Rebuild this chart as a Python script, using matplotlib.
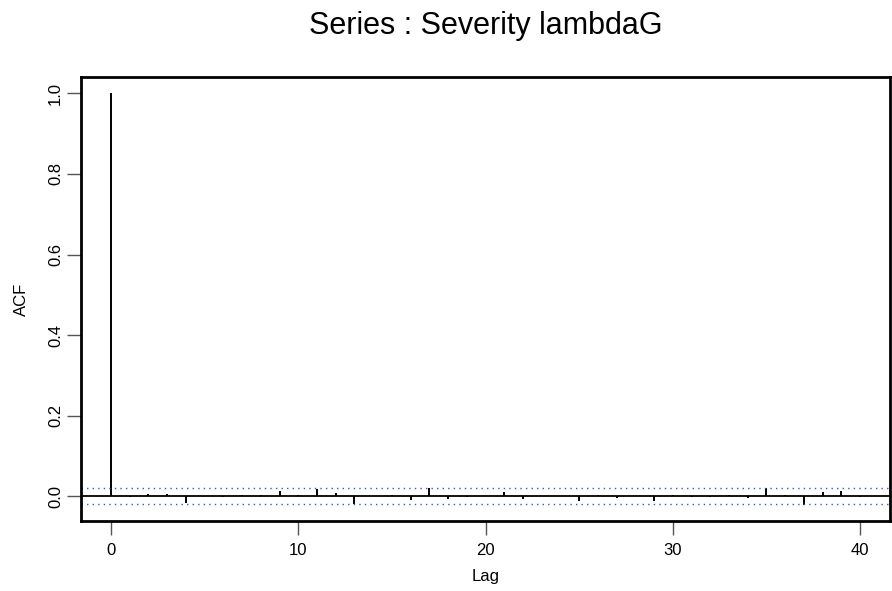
import matplotlib
matplotlib.use("Agg")
import matplotlib.pyplot as plt
import numpy as np

plt.rcParams['font.family'] = ['Liberation Sans', 'DejaVu Sans']

# ACF values, lags 0..40
lags = list(range(41))
acf = [1.0, -0.003, 0.006, 0.006, -0.018, 0.001, -0.003, 0.004, 0.003, 0.012,
       0.004, 0.018, 0.008, -0.020, 0.0, 0.002, -0.009, 0.020, -0.006, -0.002,
       0.0, 0.011, -0.007, 0.0, 0.0, -0.012, 0.003, -0.004, 0.001, -0.013,
       0.004, -0.003, -0.003, 0.004, -0.004, 0.019, 0.004, -0.021, 0.011, 0.012,
       -0.002]
ci = 0.019

fig = plt.figure(figsize=(8.92, 5.91), dpi=100)
ax = fig.add_axes([0.0908, 0.1184, 0.9070, 0.7513])

ax.vlines(lags, 0, acf, colors='black', linewidth=1.4)
ax.axhline(0, color='black', linewidth=1.3)
ax.axhline(ci, color='#2f62a6', linestyle=(0, (1, 3)), linewidth=1.0)
ax.axhline(-ci, color='#2f62a6', linestyle=(0, (1, 3)), linewidth=1.0)

# R-style 4% padding
lo = min(min(acf), -ci)
hi = max(max(acf), ci)
pad = 0.04 * (hi - lo)
ax.set_ylim(lo - pad, hi + pad)
xpad = 0.04 * (lags[-1] - lags[0])
ax.set_xlim(lags[0] - xpad, lags[-1] + xpad)

ax.set_xticks([0, 10, 20, 30, 40])
ax.set_yticks([0.0, 0.2, 0.4, 0.6, 0.8, 1.0])
ax.set_yticklabels(['0.0', '0.2', '0.4', '0.6', '0.8', '1.0'],
                   rotation=90, va='center')
ax.tick_params(axis='both', length=10, width=1.0, color='#555555',
               labelsize=12)
ax.tick_params(axis='x', pad=6)
ax.tick_params(axis='y', pad=3)
for s in ax.spines.values():
    s.set_linewidth(2.0)

ax.set_xlabel('Lag', fontsize=12, labelpad=8)
ax.set_ylabel('ACF', fontsize=12, labelpad=14)
fig.suptitle('Series : Severity lambdaG', fontsize=22, x=0.545, y=0.982)

fig.savefig('out.png', dpi=100)
